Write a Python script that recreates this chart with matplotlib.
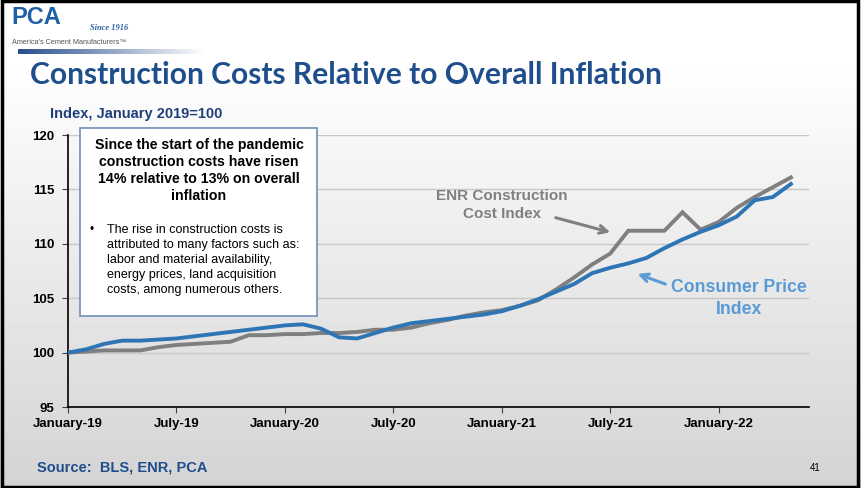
import numpy as np
import matplotlib
matplotlib.use("Agg")
import matplotlib.pyplot as plt
from matplotlib.patches import Rectangle, FancyArrowPatch

# ---------------- data ----------------
months = list(range(41))  # Jan 2019 .. May 2022
cpi = [100.0, 100.3, 100.8, 101.1, 101.1, 101.2, 101.3, 101.5, 101.7, 101.9,
       102.1, 102.3, 102.5, 102.6, 102.2, 101.4, 101.3, 101.8, 102.3, 102.7,
       102.9, 103.1, 103.3, 103.5, 103.8, 104.3, 104.9, 105.6, 106.3, 107.3,
       107.8, 108.2, 108.7, 109.6, 110.4, 111.1, 111.7, 112.5, 114.0, 114.3,
       115.5]
enr = [100.0, 100.1, 100.2, 100.2, 100.2, 100.5, 100.7, 100.8, 100.9, 101.0,
       101.6, 101.6, 101.7, 101.7, 101.8, 101.8, 101.9, 102.1, 102.1, 102.3,
       102.7, 103.0, 103.4, 103.7, 103.9, 104.3, 104.8, 105.8, 106.9, 108.1,
       109.1, 111.2, 111.2, 111.2, 112.9, 111.3, 112.0, 113.3, 114.3, 115.2,
       116.1]
tick_pos = [0, 6, 12, 18, 24, 30, 36]
tick_labels = ["January-19", "July-19", "January-20", "July-20",
               "January-21", "July-21", "January-22"]
y_ticks = [95, 100, 105, 110, 115, 120]

W, H = 861, 488
def fx(x): return x / W
def fy(y): return 1 - y / H

plt.rcParams['font.family'] = ['Liberation Sans', 'DejaVu Sans']
fig = plt.figure(figsize=(W / 100, H / 100), dpi=100)

# background gradient
bg = fig.add_axes([0, 0, 1, 1], zorder=0)
rows = np.linspace(0, 1, 488)
vals = np.clip((rows - 0.12) / 0.88, 0, 1)
shade = 1.0 - 0.17 * vals
img = np.repeat(shade[:, None], 2, axis=1)
bg.imshow(img, cmap='gray', vmin=0, vmax=1, aspect='auto', extent=[0, 1, 0, 1], origin='upper')
# logo gradient bar
bar = np.linspace(0, 1, 200)[None, :]
bar_rgb = np.zeros((1, 200, 4))
bar_rgb[..., 0] = 0.16 + 0.84 * bar
bar_rgb[..., 1] = 0.31 + 0.69 * bar
bar_rgb[..., 2] = 0.56 + 0.44 * bar
bar_rgb[..., 3] = 1
bg.imshow(bar_rgb, aspect='auto', extent=[fx(18), fx(205), fy(54), fy(49)])
bg.set_xlim(0, 1); bg.set_ylim(0, 1)
bg.axis('off')

# ---------------- main chart ----------------
ax = fig.add_axes([fx(68), fy(407), fx(809) - fx(68), fy(135) - fy(407)], zorder=1)
ax.set_facecolor('none')
ax.plot(months, enr, color='#7f7f7f', lw=2.8, solid_joinstyle='miter', zorder=3)
ax.plot(months, cpi, color='#2e75b6', lw=2.8, solid_joinstyle='miter', zorder=4)
ax.set_xlim(0, 41)
ax.set_ylim(95, 120)
ax.set_yticks(y_ticks)
ax.set_yticklabels([str(v) for v in y_ticks], fontsize=9.5, fontweight='bold')
ax.set_xticks(tick_pos)
ax.set_xticklabels(tick_labels, fontsize=9.5, fontweight='bold')
ax.tick_params(axis='both', direction='out', length=4, width=0.8, color='#404040')
ax.tick_params(axis='y', pad=6)
ax.tick_params(axis='x', pad=4)
ax.grid(axis='y', color='#c8c8c8', lw=1)
ax.set_axisbelow(True)
for s in ['top', 'right']:
    ax.spines[s].set_visible(False)
ax.spines['left'].set_color('black')
ax.spines['bottom'].set_color('black')
ax.spines['left'].set_linewidth(1.2)
ax.spines['bottom'].set_linewidth(1.2)

# annotations
ax_arrow_kw = dict(arrowstyle='->', mutation_scale=14, lw=2.2)
fig.text(fx(502), fy(196), "ENR Construction", ha='center', va='center',
         fontsize=11, fontweight='bold', color='#808080')
fig.text(fx(502), fy(214), "Cost Index", ha='center', va='center',
         fontsize=11, fontweight='bold', color='#808080')
fig.patches.append(FancyArrowPatch((fx(553), fy(217)), (fx(613), fy(233)),
                                   transform=fig.transFigure, color='#808080',
                                   **ax_arrow_kw))
fig.text(fx(739), fy(288), "Consumer Price", ha='center', va='center',
         fontsize=12.7, fontweight='bold', color='#5b9bd5')
fig.text(fx(739), fy(310), "Index", ha='center', va='center',
         fontsize=12.7, fontweight='bold', color='#5b9bd5')
fig.patches.append(FancyArrowPatch((fx(668), fy(285)), (fx(635), fy(273)),
                                   transform=fig.transFigure, color='#5b9bd5',
                                   **ax_arrow_kw))

# text box
fig.patches.append(Rectangle((fx(80), fy(316)), fx(317) - fx(80), fy(128) - fy(316),
                             transform=fig.transFigure, facecolor='white',
                             edgecolor='#6f8fb8', lw=1.2, zorder=5))
head = ["Since the start of the pandemic", "construction costs have risen",
        "14% relative to 13% on overall", "inflation"]
for i, line in enumerate(head):
    fig.text(fx(199), fy(145 + 17 * i), line, ha='center', va='center',
             fontsize=10.2, fontweight='bold', color='black', zorder=6)
body = ["The rise in construction costs is", "attributed to many factors such as:",
        "labor and material availability,", "energy prices, land acquisition",
        "costs, among numerous others."]
fig.text(fx(89), fy(230), "\u2022", ha='left', va='center', fontsize=8.5, zorder=6)
for i, line in enumerate(body):
    fig.text(fx(107), fy(230 + 15 * i), line, ha='left', va='center',
             fontsize=9.0, color='black', zorder=6)

# titles
fig.text(fx(30), fy(75), "Construction Costs Relative to Overall Inflation",
         ha='left', va='center', fontsize=21.6, fontweight='bold',
         color='#1f4e8c', family=['Lato', 'DejaVu Sans'])
fig.text(fx(50), fy(114), "Index, January 2019=100", ha='left', va='center',
         fontsize=10.5, fontweight='bold', color='#1f3f7a')

# logo
fig.text(fx(11), fy(17), "PCA", ha='left', va='center', fontsize=17,
         fontweight='bold', color='#1f5fa8', family=['Liberation Sans Narrow', 'Liberation Sans'])
fig.text(fx(90), fy(28), "Since 1916", ha='left', va='center', fontsize=6,
         style='italic', fontweight='bold', color='#2e5fa0', family=['Liberation Serif'])
fig.text(fx(12), fy(42), "America's Cement Manufacturers\u2122", ha='left', va='center',
         fontsize=5.2, color='#555555', family=['Liberation Sans Narrow', 'Liberation Sans'])

# footer
fig.text(fx(37), fy(468), "Source:  BLS, ENR, PCA", ha='left', va='center',
         fontsize=10.5, fontweight='bold', color='#1f4e8c')
fig.text(fx(815), fy(468), "41", ha='center', va='center', fontsize=7, color='black')

# outer frame
fig.patches.append(Rectangle((0.002, 0.003), 0.995, 0.994, transform=fig.transFigure,
                             fill=False, edgecolor='black', lw=2.5, zorder=10))

fig.savefig("out.png", dpi=100)
